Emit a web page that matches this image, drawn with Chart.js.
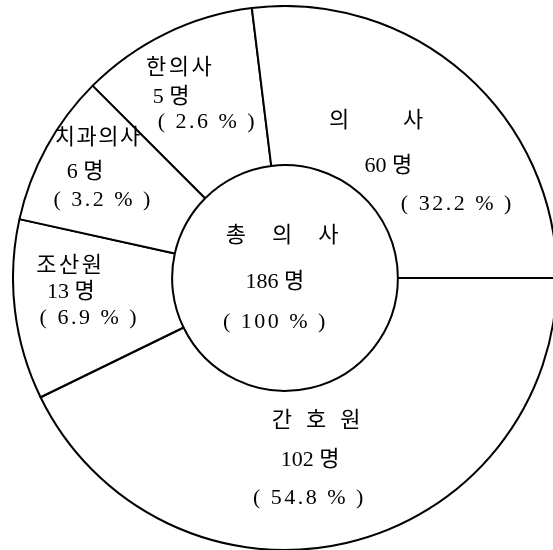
<!DOCTYPE html>
<html lang="ko">
<head>
    <meta charset="UTF-8">
    <title>총 의사 구성</title>
    <style>
        body {
            margin: 0;
            background-color: #fff;
            overflow: hidden;
        }

        #chart {
            position: absolute;
            left: 12px;
            top: 5px;
        }
    </style>
</head>
<body>
    <canvas id="chart" width="546" height="546"></canvas>

    <script src="https://cdn.jsdelivr.net/npm/chart.js"></script>
    <script>
        // Categories in drawing order, clockwise from 3 o'clock
        const categories = ['간호원', '조산원', '치과의사', '한의사', '의사'];
        const counts = [102, 13, 6, 5, 60];
        const percents = ['54.8', '6.9', '3.2', '2.6', '32.2'];
        // slice sizes in degrees as drawn in the original (it is not to scale)
        const drawnAngles = [154, 38.5, 32.5, 38, 97];
        const totalLabel = '총의사';
        const totalCount = 186;
        const totalPercent = '100';

        // label placement, in units of the outer radius from the centre
        const labelPos = [
            [[0.114, 0.526], [0.092, 0.669], [0.085, 0.809]],
            [[-0.794, -0.044], [-0.787, 0.051], [-0.724, 0.147]],
            [[-0.689, -0.515], [-0.735, -0.390], [-0.673, -0.287]],
            [[-0.390, -0.772], [-0.419, -0.665], [-0.290, -0.572]],
            [[0.335, -0.577], [0.380, -0.412], [0.629, -0.272]]
        ];
        const nameGaps = [14, 2.5, 1.5, 2.5, 54];
        const centerPos = [[-0.011, -0.154], [-0.037, 0.015], [-0.040, 0.162]];

        const FONT = '22px "Liberation Serif", "Noto Sans CJK KR", serif';

        function drawSpaced(ctx, text, x, y, gap) {
            const chars = Array.from(text);
            const widths = chars.map(c => ctx.measureText(c).width);
            const total = widths.reduce((a, b) => a + b, 0) + gap * (chars.length - 1);
            let cx = x - total / 2;
            chars.forEach((c, i) => {
                ctx.fillText(c, cx, y);
                cx += widths[i] + gap;
            });
        }

        const labelPlugin = {
            id: 'labels',
            afterDraw(chart) {
                const ctx = chart.ctx;
                const arcs = chart.getDatasetMeta(0).data;
                const ox = arcs[0].x, oy = arcs[0].y, r = arcs[0].outerRadius;
                ctx.save();
                ctx.font = FONT;
                ctx.fillStyle = '#000';
                ctx.textAlign = 'left';
                ctx.textBaseline = 'middle';
                categories.forEach((name, i) => {
                    const p = labelPos[i];
                    drawSpaced(ctx, name, ox + p[0][0] * r, oy + p[0][1] * r, nameGaps[i]);
                    drawSpaced(ctx, counts[i] + ' 명', ox + p[1][0] * r, oy + p[1][1] * r, 0);
                    drawSpaced(ctx, '( ' + percents[i] + ' % )', ox + p[2][0] * r, oy + p[2][1] * r, 2.5);
                });
                drawSpaced(ctx, totalLabel, ox + centerPos[0][0] * r, oy + centerPos[0][1] * r, 26);
                drawSpaced(ctx, totalCount + ' 명', ox + centerPos[1][0] * r, oy + centerPos[1][1] * r, 0);
                drawSpaced(ctx, '( ' + totalPercent + ' % )', ox + centerPos[2][0] * r, oy + centerPos[2][1] * r, 2.5);
                ctx.restore();
            }
        };

        new Chart(document.getElementById('chart'), {
            type: 'doughnut',
            data: {
                labels: categories,
                datasets: [{
                    data: drawnAngles,
                    backgroundColor: '#fff',
                    borderColor: '#000',
                    borderWidth: 2
                }]
            },
            options: {
                responsive: false,
                animation: false,
                devicePixelRatio: 1,
                rotation: 90,
                cutout: '41.5%',
                plugins: {
                    legend: { display: false },
                    tooltip: { enabled: false }
                }
            },
            plugins: [labelPlugin]
        });
    </script>
</body>
</html>
